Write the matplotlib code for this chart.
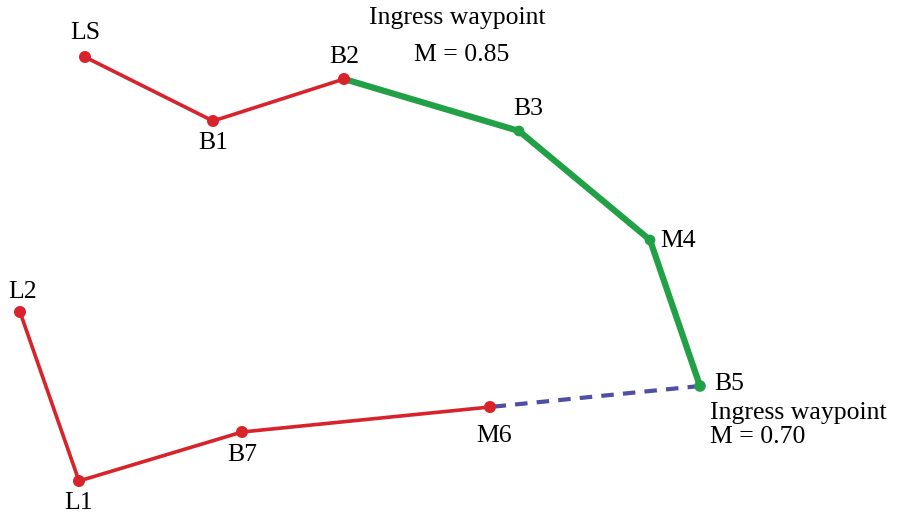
import matplotlib
matplotlib.use("Agg")
import matplotlib.pyplot as plt

plt.rcParams['font.family'] = ['Liberation Serif', 'DejaVu Serif']

# waypoint names and positions (picture pixel coordinates, y down)
names = ["LS", "B1", "B2", "B3", "M4", "B5", "M6", "B7", "L1", "L2"]
xs = [85, 213, 344, 519, 650, 700, 490, 242, 79, 20]
ys = [57, 121, 79, 131, 240, 386, 407, 432, 481, 312]

# path pieces as index lists into the waypoints
red_a = [0, 1, 2]
green = [2, 3, 4, 5]
dashed = [5, 6]
red_b = [6, 7, 8, 9]

# label offsets in pixels (dx, dy)
offsets = {
    "LS": (0, -24), "B1": (0, 22), "B2": (0, -22), "B3": (9, -22),
    "M4": (28, 1), "B5": (29, -2), "M6": (4, 29), "B7": (0, 23),
    "L1": (0, 22), "L2": (3, -20),
}

RED = "#d8232a"
GREEN = "#22a046"
BLUE = "#4f4fa6"
FS = 18.5

fig = plt.figure(figsize=(9, 5.18), dpi=100)
ax = fig.add_axes([0, 0, 1, 1])
ax.set_xlim(0, 900)
ax.set_ylim(518, 0)
ax.axis("off")


def pick(idx):
    return [xs[i] for i in idx], [ys[i] for i in idx]


px, py = pick(dashed)
ax.plot(px, py, color=BLUE, lw=3, ls=(0, (3, 2.2)), zorder=1)
px, py = pick(red_a)
ax.plot(px, py, color=RED, lw=2.6, zorder=2)
px, py = pick(red_b)
ax.plot(px, py, color=RED, lw=2.6, zorder=2)
px, py = pick(green)
ax.plot(px, py, color=GREEN, lw=4.5, zorder=3)

dot_colors = [RED, RED, RED, GREEN, GREEN, GREEN, RED, RED, RED, RED]
dot_sizes = [75, 75, 75, 60, 60, 70, 75, 75, 75, 75]
ax.scatter(xs, ys, s=dot_sizes, c=dot_colors, zorder=4, linewidths=0)

for n, x, y in zip(names, xs, ys):
    dx, dy = offsets[n]
    ax.text(x + dx, y + dy, n, fontsize=FS, ha="center", va="center")

ax.text(457, 18, "Ingress waypoint", fontsize=FS, ha="center", va="center")
ax.text(462, 55, "M = 0.85", fontsize=FS, ha="center", va="center")
ax.text(710, 413, "Ingress waypoint", fontsize=FS, ha="left", va="center")
ax.text(710, 437, "M = 0.70", fontsize=FS, ha="left", va="center")

fig.savefig("out.png", dpi=100)
